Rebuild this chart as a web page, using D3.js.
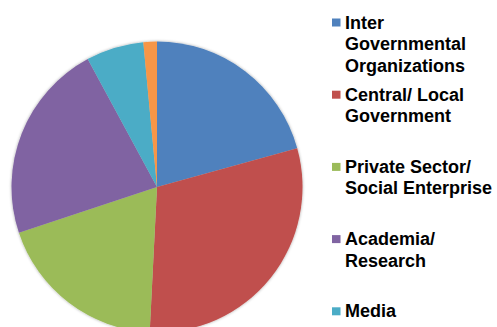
<!DOCTYPE html>
<html>
<head>
<meta charset="utf-8">
<script src="https://cdn.jsdelivr.net/npm/d3@7"></script>
<style>
html,body{margin:0;padding:0;background:#fff;}
svg{display:block;}
</style>
</head>
<body>
<svg id="chart" width="497" height="327"></svg>
<script>
const categories = [
  ["Inter", "Governmental", "Organizations"],
  ["Central/ Local", "Government"],
  ["Private Sector/", "Social Enterprise"],
  ["Academia/", "Research"],
  ["Media"],
  ["Other"]
];
const values = [20.7, 30.1, 19.1, 22.2, 6.4, 1.5];
const colors = ["#4F81BD", "#C0504D", "#9BBB59", "#8064A2", "#4BACC6", "#F79646"];

const W = 497, H = 327;
const svg = d3.select("#chart");
const cx = 157, cy = 187, r = 145.5;

const defs = svg.append("defs");
const f = defs.append("filter").attr("id","sh").attr("x","-10%").attr("y","-10%").attr("width","120%").attr("height","120%");
f.append("feDropShadow").attr("dx",0).attr("dy",0).attr("stdDeviation",1.6)
  .attr("flood-color","#000").attr("flood-opacity",0.35);

const pie = d3.pie().sort(null).value(d => d);
const arc = d3.arc().innerRadius(0).outerRadius(r);
const color = d3.scaleOrdinal().domain(d3.range(values.length)).range(colors);

const g = svg.append("g").attr("transform", `translate(${cx},${cy})`).attr("filter","url(#sh)");
g.selectAll("path").data(pie(values)).join("path")
  .attr("d", arc)
  .attr("fill", (d,i) => color(i));

// legend (entries that fall below the visible area are not drawn)
const y0 = 28.5, step = 72.2, lh = 21.5;
const lg = svg.append("g");
categories.forEach((lines, i) => {
  const by = y0 + i * step;
  if (by > H - 5) return;
  lg.append("rect").attr("x", 332).attr("y", by - 10).attr("width", 8.5).attr("height", 8)
    .attr("fill", color(i));
  const t = lg.append("text").attr("x", 345).attr("y", by)
    .attr("font-family", "'Liberation Sans', Arial, sans-serif")
    .attr("font-weight", "bold").attr("font-size", "18px").attr("fill", "#000");
  lines.forEach((ln, j) => {
    t.append("tspan").attr("x", 345).attr("y", by + j * lh).text(ln);
  });
});
</script>
</body>
</html>
